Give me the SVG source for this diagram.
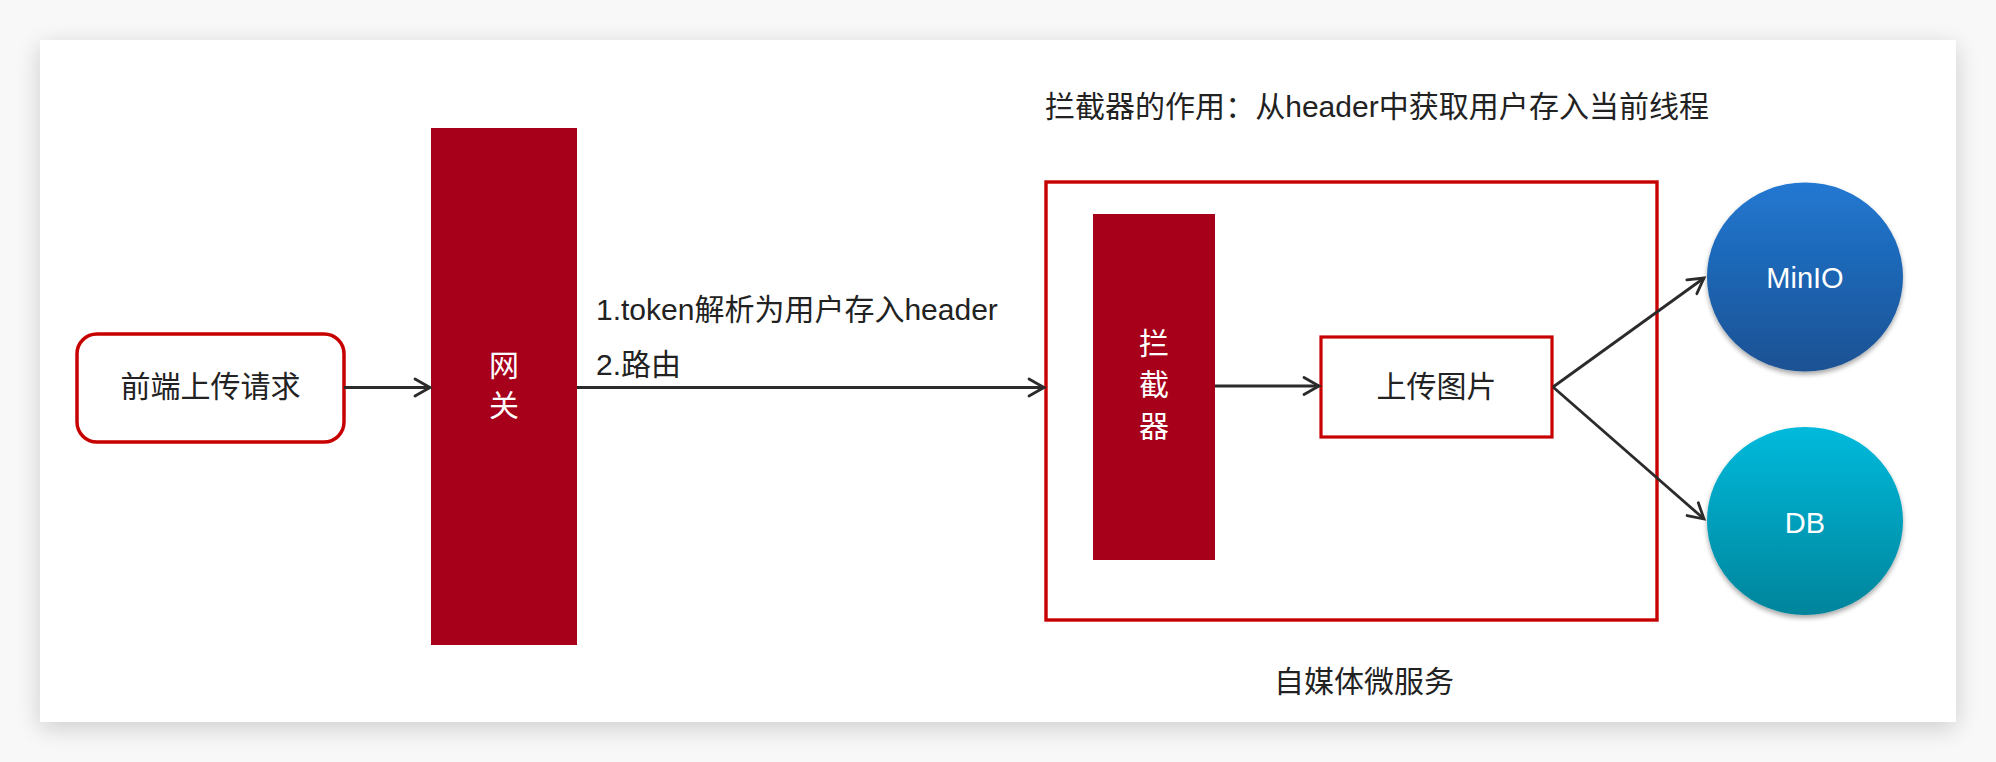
<svg xmlns="http://www.w3.org/2000/svg" width="1996" height="762" viewBox="0 0 1996 762">
  <defs>
    <style>
      .lbl { font-family: "Liberation Sans", "Noto Sans CJK SC", sans-serif; font-size: 30px; fill: #222222; }
      .wht { font-family: "Liberation Sans", "Noto Sans CJK SC", sans-serif; font-size: 30px; fill: #ffffff; text-anchor: middle; }
      .dbl { font-family: "Liberation Sans", "Noto Sans CJK SC", sans-serif; font-size: 29px; fill: #ffffff; text-anchor: middle; }
      .mid { text-anchor: middle; }
      .redbox { fill: #ffffff; stroke: #c70000; }
      .bar { fill: #a6001b; }
      .conn { stroke: #2b2b2b; stroke-width: 2.8; fill: none; marker-end: url(#arr); }
    </style>
    <marker id="arr" markerUnits="userSpaceOnUse" markerWidth="24" markerHeight="24" viewBox="-20 -12 24 24" refX="0" refY="0" orient="auto">
      <path d="M-15,-8.5 L0,0 L-15,8.5" fill="none" stroke="#2b2b2b" stroke-width="2.8" stroke-linecap="round" stroke-linejoin="miter"/>
    </marker>
    <filter id="cardShadow" x="-5%" y="-10%" width="110%" height="125%">
      <feGaussianBlur in="SourceAlpha" stdDeviation="12"/>
      <feOffset dx="0" dy="6" result="b"/>
      <feComponentTransfer><feFuncA type="linear" slope="0.18"/></feComponentTransfer>
      <feMerge><feMergeNode/><feMergeNode in="SourceGraphic"/></feMerge>
    </filter>
    <filter id="circShadow" x="-20%" y="-20%" width="140%" height="150%">
      <feGaussianBlur in="SourceAlpha" stdDeviation="2.5"/>
      <feOffset dx="0" dy="3"/>
      <feComponentTransfer><feFuncA type="linear" slope="0.35"/></feComponentTransfer>
      <feMerge><feMergeNode/><feMergeNode in="SourceGraphic"/></feMerge>
    </filter>
    <linearGradient id="gBlue" x1="0" y1="0" x2="0" y2="1">
      <stop offset="0" stop-color="#2178d2"/>
      <stop offset="1" stop-color="#1b5193"/>
    </linearGradient>
    <linearGradient id="gCyan" x1="0" y1="0" x2="0" y2="1">
      <stop offset="0" stop-color="#00badc"/>
      <stop offset="1" stop-color="#00849b"/>
    </linearGradient>
  </defs>

  <rect x="0" y="0" width="1996" height="762" fill="#f8f8f8"/>
  <rect id="card" x="40" y="40" width="1916" height="682" fill="#ffffff" filter="url(#cardShadow)"/>

  <text id="title" class="lbl" x="1045" y="117" textLength="664" lengthAdjust="spacing">拦截器的作用：从header中获取用户存入当前线程</text>

  <g id="frontend">
    <rect class="redbox" x="77" y="334" width="267" height="108" rx="20" ry="20" stroke-width="3.5"/>
    <text class="lbl mid" x="210.5" y="397">前端上传请求</text>
  </g>

  <g id="gateway">
    <rect class="bar" x="431" y="128" width="146" height="517"/>
    <text class="wht" x="504" y="376">网</text>
    <text class="wht" x="504" y="416">关</text>
  </g>

  <g id="microservice">
    <rect x="1046" y="182" width="611" height="438" fill="none" stroke="#c70000" stroke-width="3.4"/>
    <text class="lbl mid" x="1364" y="692">自媒体微服务</text>
  </g>

  <g id="interceptor">
    <rect class="bar" x="1093" y="214" width="122" height="346"/>
    <text class="wht" x="1154" y="354">拦</text>
    <text class="wht" x="1154" y="395">截</text>
    <text class="wht" x="1154" y="437">器</text>
  </g>

  <g id="upload">
    <rect class="redbox" x="1321" y="337" width="231" height="100" stroke-width="3.2"/>
    <text class="lbl mid" x="1436.5" y="397">上传图片</text>
  </g>

  <g id="minio">
    <ellipse cx="1805" cy="277" rx="98" ry="94.5" fill="url(#gBlue)" filter="url(#circShadow)"/>
    <text class="dbl" x="1805" y="288">MinIO</text>
  </g>

  <g id="db">
    <ellipse cx="1805" cy="521" rx="98" ry="94" fill="url(#gCyan)" filter="url(#circShadow)"/>
    <text class="dbl" x="1805" y="533">DB</text>
  </g>

  <g id="connectors">
    <line class="conn" x1="344" y1="387.5" x2="430" y2="387.5"/>
    <line class="conn" x1="577" y1="387.5" x2="1044" y2="387.5"/>
    <line class="conn" x1="1215" y1="386" x2="1319" y2="386"/>
    <line class="conn" x1="1553" y1="387" x2="1704" y2="278"/>
    <line class="conn" x1="1553" y1="387" x2="1704" y2="519"/>
    <text class="lbl" x="596" y="320">1.token解析为用户存入header</text>
    <text class="lbl" x="596" y="375">2.路由</text>
  </g>
</svg>
